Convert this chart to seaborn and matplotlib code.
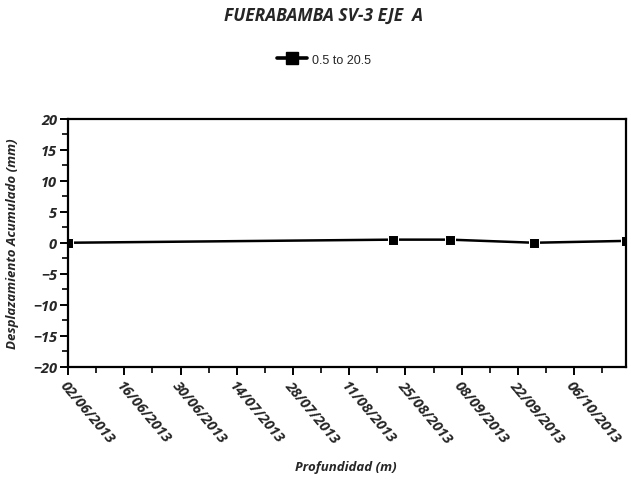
import matplotlib
matplotlib.use("Agg")
import matplotlib.pyplot as plt
import matplotlib.dates as mdates
from matplotlib.ticker import MultipleLocator, FixedLocator
from matplotlib.lines import Line2D
import seaborn as sns
import pandas as pd

# Readings: cumulative displacement for the 0.5 to 20.5 interval
fechas = ["2013-06-02", "2013-08-22", "2013-09-05", "2013-09-26", "2013-10-19"]
desplazamiento = [0.0, 0.5, 0.5, 0.0, 0.3]
serie = "0.5 to 20.5"

df = pd.DataFrame({"fecha": pd.to_datetime(fechas),
                   "valor": desplazamiento,
                   "serie": serie})

sns.set_theme(style="white")
plt.rcParams["font.family"] = ["Open Sans", "DejaVu Sans"]

fig = plt.figure(figsize=(6.31, 4.81), dpi=100)
ax = fig.add_axes([0.1078, 0.235, 0.885, 0.5165])

sns.lineplot(data=df, x="fecha", y="valor", hue="serie", palette=["black"],
             marker="s", markersize=7, linewidth=1.8, ax=ax, legend=False)

ax.set_xlim(pd.Timestamp("2013-06-02"), pd.Timestamp("2013-10-19"))
ax.set_ylim(-20, 20)

# fortnightly major ticks, weekly minor ticks, starting on the first reading
major = pd.date_range("2013-06-02", "2013-10-19", freq="14D")
minor = pd.date_range("2013-06-02", "2013-10-19", freq="7D")
ax.xaxis.set_major_locator(FixedLocator(mdates.date2num(major)))
ax.xaxis.set_minor_locator(FixedLocator(mdates.date2num(minor)))
ax.xaxis.set_major_formatter(mdates.DateFormatter("%d/%m/%Y"))
ax.yaxis.set_major_locator(MultipleLocator(5))
ax.yaxis.set_minor_locator(MultipleLocator(2.5))

for s in ax.spines.values():
    s.set_color("black")
    s.set_linewidth(1.6)

ax.tick_params(axis="both", which="major", direction="out", length=6, width=1.4,
               color="black", left=True, bottom=True, pad=2)
ax.tick_params(axis="both", which="minor", direction="out", length=4, width=1.2,
               color="black", left=True, bottom=True)

tick_kw = dict(fontsize=10.5, fontweight="bold", fontstyle="italic")
for lab in ax.get_xticklabels():
    lab.set_rotation(-50)
    lab.set_rotation_mode("anchor")
    lab.set_ha("left")
    lab.set_va("top")
    lab.set(**tick_kw)
for lab in ax.get_yticklabels():
    lab.set(**tick_kw)

label_kw = dict(fontsize=9.5, fontweight="bold", fontstyle="italic")
ax.set_xlabel("Profundidad (m)", **label_kw)
ax.xaxis.set_label_coords(0.498, -0.375)
ax.set_ylabel("Desplazamiento Acumulado (mm)", **label_kw)
ax.yaxis.set_label_coords(-0.088, 0.5)

handle = Line2D([], [], color="black", linewidth=2.6, marker="s", markersize=8)
fig.legend([handle], [serie], loc="center", bbox_to_anchor=(0.513, 0.874), frameon=False,
           prop={"family": "Liberation Sans", "size": 9}, handlelength=2.4, handletextpad=0.4)

fig.text(0.512, 0.968, "FUERABAMBA SV-3 EJE  A", ha="center", va="center",
         fontsize=12.5, fontweight="bold", fontstyle="italic")

fig.savefig("out.png", dpi=100)
